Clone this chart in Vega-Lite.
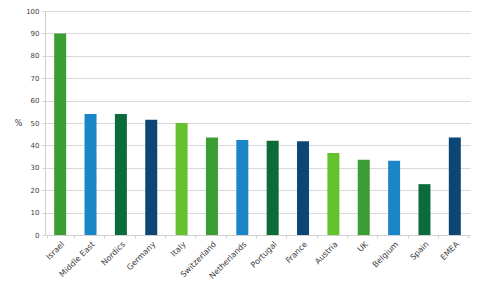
{
  "$schema": "https://vega.github.io/schema/vega-lite/v6.json",
  "width": 425,
  "height": 224,
  "autosize": {"type": "none"},
  "padding": {"left": 45, "top": 11, "right": 10, "bottom": 51},
  "background": "white",
  "data": {"values": [
    {"region": "Israel", "value": 90, "grp": "a"},
    {"region": "Middle East", "value": 54, "grp": "b"},
    {"region": "Nordics", "value": 54, "grp": "c"},
    {"region": "Germany", "value": 51.5, "grp": "d"},
    {"region": "Italy", "value": 50, "grp": "e"},
    {"region": "Switzerland", "value": 43.5, "grp": "a"},
    {"region": "Netherlands", "value": 42.4, "grp": "b"},
    {"region": "Portugal", "value": 42.1, "grp": "c"},
    {"region": "France", "value": 41.8, "grp": "d"},
    {"region": "Austria", "value": 36.6, "grp": "e"},
    {"region": "UK", "value": 33.6, "grp": "a"},
    {"region": "Belgium", "value": 33.2, "grp": "b"},
    {"region": "Spain", "value": 22.7, "grp": "c"},
    {"region": "EMEA", "value": 43.5, "grp": "d"}
  ]},
  "mark": {"type": "bar", "size": 12},
  "encoding": {
    "x": {
      "field": "region", "type": "nominal", "sort": null,
      "axis": {
        "title": null, "labelAngle": -45, "labelAlign": "right", "labelBaseline": "top",
        "labelFont": "DejaVu Sans", "labelFontSize": 8, "labelColor": "#404040",
        "domainColor": "#d0d0d0", "tickColor": "#d0d0d0", "tickSize": 3, "ticks": true,
        "tickBand": "extent", "labelPadding": 2
      }
    },
    "y": {
      "field": "value", "type": "quantitative",
      "scale": {"domain": [0, 100], "nice": false},
      "axis": {
        "title": "%", "titleAngle": 0, "titleX": -27, "titleY": 112, "titleAlign": "center",
        "titleBaseline": "middle", "titleFont": "DejaVu Sans", "titleFontSize": 8,
        "titleFontWeight": "normal", "titleColor": "#404040",
        "values": [0, 10, 20, 30, 40, 50, 60, 70, 80, 90, 100],
        "labelFont": "DejaVu Sans", "labelFontSize": 7, "labelColor": "#404040",
        "domainColor": "#d0d0d0", "tickColor": "#d0d0d0", "tickSize": 3,
        "gridColor": "#d9d9d9", "labelPadding": 3
      }
    },
    "color": {
      "field": "grp", "type": "nominal", "legend": null,
      "scale": {"domain": ["a", "b", "c", "d", "e"],
                "range": ["#3a9e35", "#1a86c8", "#0b6b3a", "#0b4674", "#66c12e"]}
    }
  },
  "config": {"view": {"stroke": null}}
}
